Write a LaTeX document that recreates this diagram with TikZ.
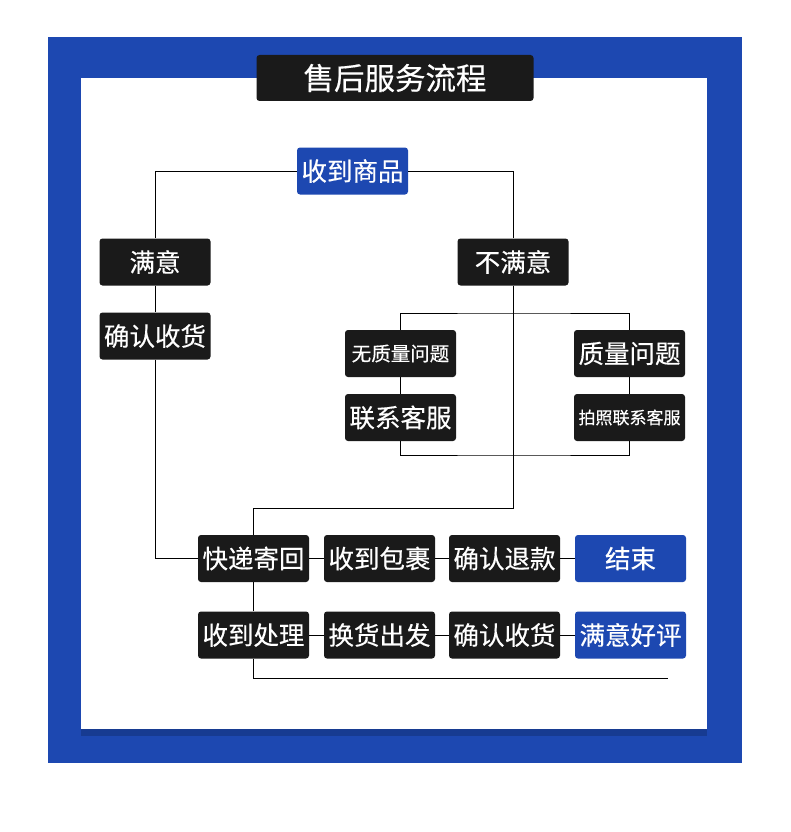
\documentclass[tikz,border=0pt]{standalone}
\usepackage{fontspec}
\setmainfont{Noto Sans CJK SC}[FakeBold=0.4]
\usepackage{tikz}
\usetikzlibrary{positioning,calc}

\definecolor{flowblue}{HTML}{1D48B1}
\definecolor{flowdark}{HTML}{1A1A1A}

\begin{document}
\begin{tikzpicture}[
  x=1pt, y=-1pt,
  flowbox/.style={rectangle, rounded corners=3pt, fill=flowdark, text=white,
    minimum width=111pt, minimum height=47pt, inner sep=0pt, font=\fontsize{25.5}{25.5}\selectfont},
  endbox/.style={flowbox, fill=flowblue},
  smalltxt/.style={font=\fontsize{19.5}{19.5}\selectfont},
  tinytxt/.style={font=\fontsize{17}{17}\selectfont},
  link/.style={draw=black, line width=1pt}
]
\useasboundingbox (0,0) rectangle (790,832);

% frame
\fill[flowblue] (48,37) rectangle (742,763);
\fill[black, opacity=0.18] (81,729) rectangle (707,736);
\fill[white] (81,78) rectangle (707,729);
\node[flowbox, minimum width=277pt, minimum height=46pt,
  font=\fontsize{30.5}{30.5}\selectfont] (title) at (395,78) {售后服务流程};

% top of the tree
\node[endbox] (get) at (352.5,171) {收到商品};
\node[flowbox] (sat) at (155,262) {满意};
\node[flowbox] (conf1) at (155,336) {确认收货};
\node[flowbox] (unsat) at (513,262) {不满意};

% two kinds of complaint
\node[flowbox, smalltxt] (noq) at (400.5,353.5) {无质量问题};
\node[flowbox] (cs1) at (400.5,417.5) {联系客服};
\node[flowbox] (q) at (629.5,353.5) {质量问题};
\node[flowbox, tinytxt] (cs2) at (629.5,417.5) {拍照联系客服};
\coordinate (split) at (513,313);
\coordinate (join) at (513,455);

% return row
\node[flowbox] (ship) at (253.5,558.5) {快递寄回};
\node[flowbox] (recv) at (379.5,558.5) {收到包裹};
\node[flowbox] (refund) at (504.5,558.5) {确认退款};
\node[endbox] (done) at (630.5,558.5) {结束};

% exchange row
\node[flowbox] (handle) at (253.5,635) {收到处理};
\node[flowbox] (exch) at (379.5,635) {换货出发};
\node[flowbox] (conf2) at (504.5,635) {确认收货};
\node[endbox] (good) at (630.5,635) {满意好评};
\coordinate (tail) at (668,678);

% connectors
\draw[link] (get.west) -| (sat.north);
\draw[link] (get.east) -| (unsat.north);
\draw[link] (sat) -- (conf1);
\draw[link] (conf1.south) |- (ship.west);
\draw[link] (unsat.south) -- ++(0,222.5) -| (ship.north);
\draw[link] (noq.north) |- (split) -| (q.north);
\draw[link] (noq) -- (cs1);
\draw[link] (q) -- (cs2);
\draw[link] (cs1.south) |- (join) -| (cs2.south);
\draw[link] (ship) -- (recv);
\draw[link] (recv) -- (refund);
\draw[link] (refund) -- (done);
\draw[link] (ship) -- (handle);
\draw[link] (handle) -- (exch);
\draw[link] (exch) -- (conf2);
\draw[link] (conf2) -- (good);
\draw[link] (handle.south) |- (tail);

\end{tikzpicture}
\end{document}
